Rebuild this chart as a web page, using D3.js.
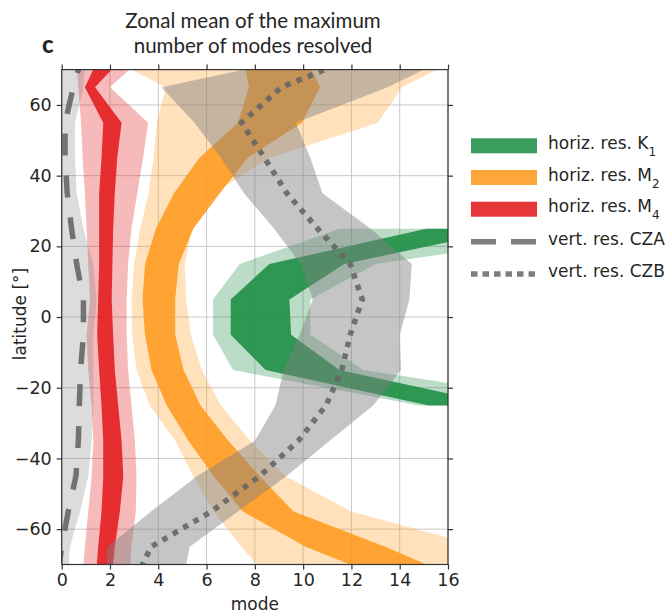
<!DOCTYPE html>
<html>
<head>
<meta charset="utf-8">
<script src="https://cdn.jsdelivr.net/npm/d3@7"></script>
<style>
body { margin: 0; background: #fff; }
svg text { font-family: "DejaVu Sans", sans-serif; fill: #262626; }
</style>
</head>
<body>
<svg id="chart" width="667" height="613"></svg>
<script>
// latitude grid (deg), shared by every band / line
var lats = [75, 65, 55, 45, 35, 25, 15, 5, -5, -15, -25, -35, -45, -55, -65, -75];
var latsK1 = [25, 15, 5, -5, -15, -25];

// horiz. res. K1 (only tropics)
var k1InnerLo = [15.1, 8.6, 7.0, 7.0, 8.45, 15.2];
var k1InnerHi = [18.6, 11.7, 9.43, 9.5, 11.5, 18.3];
var k1OuterLo = [11.5, 7.37, 6.27, 6.27, 7.1, 14.8];
var k1OuterHi = [23, 13.0, 10.3, 10.3, 12.5, 22];

// horiz. res. M2
var m2InnerLo = [7.5, 7.75, 7.3, 5.7, 4.65, 3.9, 3.45, 3.35, 3.45, 3.72, 4.35, 5.25, 6.3, 7.5, 10.1, 13.8];
var m2InnerHi = [10.0, 10.7, 9.95, 7.7, 6.55, 5.45, 4.85, 4.7, 4.7, 5.05, 5.75, 6.9, 8.2, 9.6, 13.4, 16.8];
var m2OuterLo = [1.5, 4.3, 3.95, 3.8, 3.6, 3.25, 3.0, 2.9, 2.92, 3.1, 3.65, 4.7, 5.45, 6.3, 7.45, 8.7];
var m2OuterHi = [17, 14.1, 13.1, 8.6, 6.3, 5.4, 5.1, 5.15, 5.35, 5.8, 6.6, 7.8, 9.27, 12.0, 17.4, 20];

// horiz. res. M4
var m4InnerLo = [1.66, 0.96, 1.72, 1.65, 1.55, 1.55, 1.55, 1.51, 1.47, 1.55, 1.65, 1.72, 1.72, 1.65, 1.51, 1.40];
var m4InnerHi = [2.76, 1.38, 2.48, 2.3, 2.2, 2.13, 2.1, 2.07, 2.13, 2.2, 2.34, 2.48, 2.55, 2.41, 2.2, 2.05];
var m4OuterLo = [0.57, 0.69, 0.8, 0.87, 0.96, 1.03, 1.1, 1.17, 1.03, 1.1, 1.24, 1.31, 1.24, 1.1, 0.96, 0.85];
var m4OuterHi = [3.6, 2.0, 3.58, 3.37, 3.13, 2.89, 2.75, 2.69, 2.69, 2.75, 2.89, 3.03, 3.1, 3.07, 2.89, 2.8];

// vert. res. CZA
var czaLine = [0.9, 0.48, 0.14, 0.14, 0.23, 0.41, 0.62, 0.9, 0.9, 0.78, 0.73, 0.69, 0.59, 0.27, 0.0, -0.2];
var czaLo = [0, 0, 0, 0, 0, 0, 0, 0, 0, 0, 0, 0, 0, 0, 0, 0];
var czaHi = [1.0, 0.9, 0.55, 0.55, 0.62, 0.9, 1.31, 1.45, 1.31, 1.31, 1.31, 1.24, 1.1, 0.76, 0.34, 0.25];

// vert. res. CZB
var czbLine = [12.7, 9.1, 7.45, 8.4, 9.33, 10.6, 11.95, 12.45, 11.95, 11.6, 10.95, 9.8, 8.2, 6.2, 3.7, 3.0];
var czbLo = [11, 4.13, 5.5, 6.6, 7.55, 8.8, 9.9, 10.4, 9.85, 9.2, 8.85, 8.0, 5.6, 3.7, 1.9, 1.8];
var czbHi = [16.5, 13.5, 9.7, 10.3, 10.8, 12.8, 14.5, 14.4, 14.0, 14.05, 12.9, 11.1, 9.3, 7.3, 5.3, 5.0];

var xTicks = [0, 2, 4, 6, 8, 10, 12, 14, 16];
var yTicks = [-60, -40, -20, 0, 20, 40, 60];

var legendNames = [["horiz. res. K", "1"], ["horiz. res. M", "2"], ["horiz. res. M", "4"], ["vert. res. CZA", ""], ["vert. res. CZB", ""]];

var green = "#1f8f45", orange = "#ff9a1f", red = "#e41a1c", gray = "#808080", lineGray = "#666666";

var svg = d3.select("#chart");
var pLeft = 61.7, pRight = 448, pTop = 69.6, pBottom = 564.5;

var x = d3.scaleLinear().domain([0, 16]).range([pLeft, pRight]);
var y = d3.scaleLinear().domain([-70, 70]).range([pBottom, pTop]);

svg.append("clipPath").attr("id", "clip")
  .append("rect").attr("x", pLeft).attr("y", pTop).attr("width", pRight - pLeft).attr("height", pBottom - pTop);

// grid
var grid = svg.append("g");
grid.selectAll(".gx").data(xTicks).enter().append("line")
  .attr("x1", d => x(d)).attr("x2", d => x(d)).attr("y1", pTop).attr("y2", pBottom)
  .attr("stroke", "#c8c8c8").attr("stroke-width", 1);
grid.selectAll(".gy").data(yTicks).enter().append("line")
  .attr("y1", d => y(d)).attr("y2", d => y(d)).attr("x1", pLeft).attr("x2", pRight)
  .attr("stroke", "#c8c8c8").attr("stroke-width", 1);

var plot = svg.append("g").attr("clip-path", "url(#clip)");

function band(latArr, lo, hi, color, alpha) {
  var data = latArr.map(function(l, i) { return {lat: l, lo: lo[i], hi: hi[i]}; });
  var area = d3.area().y(d => y(d.lat)).x0(d => x(d.lo)).x1(d => x(d.hi));
  plot.append("path").datum(data).attr("d", area)
    .attr("fill", color).attr("fill-opacity", alpha).attr("stroke", "none");
}

function curve(latArr, vals, dash) {
  var data = latArr.map(function(l, i) { return {lat: l, v: vals[i]}; });
  var line = d3.line().x(d => x(d.v)).y(d => y(d.lat));
  plot.append("path").datum(data).attr("d", line)
    .attr("fill", "none").attr("stroke", lineGray).attr("stroke-opacity", 0.9)
    .attr("stroke-width", 5.5).attr("stroke-dasharray", dash);
}

band(latsK1, k1OuterLo, k1OuterHi, green, 0.3);
band(latsK1, k1InnerLo, k1InnerHi, green, 0.9);
band(lats, m2OuterLo, m2OuterHi, orange, 0.3);
band(lats, m2InnerLo, m2InnerHi, orange, 0.88);
band(lats, m4OuterLo, m4OuterHi, red, 0.3);
band(lats, m4InnerLo, m4InnerHi, red, 0.88);
band(lats, czaLo, czaHi, gray, 0.28);
band(lats, czbLo, czbHi, gray, 0.46);
curve(lats, czaLine, "22,20");
curve(lats, czbLine, "5.5,6.5");

// axes
var ax = svg.append("g");
ax.append("rect").attr("x", pLeft).attr("y", pTop).attr("width", pRight - pLeft).attr("height", pBottom - pTop)
  .attr("fill", "none").attr("stroke", "#333").attr("stroke-width", 1.2);

ax.append("g").attr("transform", "translate(0," + pBottom + ")")
  .call(d3.axisBottom(x).tickValues(xTicks).tickSize(5).tickPadding(4).tickFormat(d3.format("d")))
  .call(g => g.select(".domain").remove());
ax.append("g").attr("transform", "translate(0," + pTop + ")")
  .call(d3.axisTop(x).tickValues(xTicks).tickSize(5).tickFormat(""))
  .call(g => g.select(".domain").remove());
ax.append("g").attr("transform", "translate(" + pLeft + ",0)")
  .call(d3.axisLeft(y).tickValues(yTicks).tickSize(5).tickPadding(5).tickFormat(d3.format("d")))
  .call(g => g.select(".domain").remove());
ax.append("g").attr("transform", "translate(" + pRight + ",0)")
  .call(d3.axisRight(y).tickValues(yTicks).tickSize(5).tickFormat(""))
  .call(g => g.select(".domain").remove());

ax.selectAll(".tick line").attr("stroke", "#333").attr("stroke-width", 1.2);
ax.selectAll(".tick text").attr("font-family", "DejaVu Sans").attr("font-size", 17.5).attr("fill", "#262626");

svg.append("text").attr("x", (pLeft + pRight) / 2).attr("y", 610).attr("text-anchor", "middle")
  .attr("font-size", 17).text("mode");
svg.append("text").attr("transform", "translate(26,314) rotate(-90)").attr("text-anchor", "middle")
  .attr("font-size", 17).text("latitude [°]");

// title
svg.append("text").attr("x", 253).attr("y", 28).attr("text-anchor", "middle")
  .style("font-family", "Lato").attr("font-size", 20.5).text("Zonal mean of the maximum");
svg.append("text").attr("x", 253).attr("y", 53).attr("text-anchor", "middle")
  .style("font-family", "Lato").attr("font-size", 20.5).text("number of modes resolved");
svg.append("text").attr("x", 42).attr("y", 53).style("font-family", "Lato").attr("font-weight", 900)
  .attr("font-size", 24).text("c");

// legend
var leg = svg.append("g");
var legY = [145.8, 177.5, 209.2, 241.7, 274];
var legColors = [green, orange, red];
legendNames.forEach(function(n, i) {
  if (i < 3) {
    leg.append("rect").attr("x", 471).attr("y", legY[i] - 7.5).attr("width", 66).attr("height", 15)
      .attr("fill", legColors[i]).attr("fill-opacity", 0.88);
  } else {
    leg.append("line").attr("x1", 471).attr("x2", 537).attr("y1", legY[i]).attr("y2", legY[i])
      .attr("stroke", lineGray).attr("stroke-opacity", 0.85).attr("stroke-width", 5.5)
      .attr("stroke-dasharray", i == 3 ? "25,15" : "6.5,5");
  }
  var t = leg.append("text").attr("x", 548).attr("y", legY[i] + 3).attr("font-size", 17);
  t.append("tspan").text(n[0]);
  if (n[1]) t.append("tspan").attr("dy", 7).attr("font-size", 12).text(n[1]);
});
</script>
</body>
</html>
